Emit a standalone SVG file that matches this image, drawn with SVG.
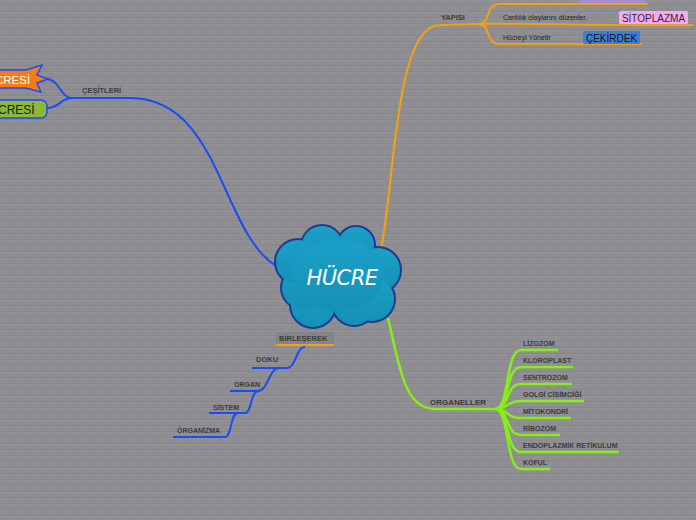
<svg xmlns="http://www.w3.org/2000/svg" width="696" height="520" viewBox="0 0 696 520">
<defs>
<pattern id="brick" width="16" height="12" patternUnits="userSpaceOnUse">
<rect width="16" height="12" fill="#8f8f93"/>
<path d="M0,5.5H16M0,11.5H16M4,0V6M12,6V12" stroke="#87878b" stroke-width="1" fill="none"/>
<path d="M0,0.5H16M0,6.5H16" stroke="#939397" stroke-width="1" fill="none"/>
</pattern>
<linearGradient id="cloudg" x1="0" y1="0" x2="0" y2="1">
<stop offset="0" stop-color="#1ba0c8"/>
<stop offset="1" stop-color="#1590b6"/>
</linearGradient>
</defs>
<style>
.lbl{font-family:"Liberation Sans",Arial,sans-serif;font-weight:bold;fill:#3c3c3c;}
.sm{font-family:"Liberation Sans",Arial,sans-serif;fill:#1e1e1e;}
.blue{stroke:#1a4cf5;stroke-width:2;fill:none;}
.orange{stroke:#f7a00f;stroke-width:2;fill:none;}
.green{stroke:#86ee16;stroke-width:2.5;fill:none;}
.cl{fill:url(#cloudg);stroke:#1e3c8e;stroke-width:4;}
.cf{fill:url(#cloudg);}
</style>
<rect width="696" height="520" fill="url(#brick)"/>

<g id="connectors">
<path class="blue" d="M276,266 C220,230 220,98 130,98 L72,98"/>
<path class="blue" d="M72,98 C60,98 60,79 46,79"/>
<path class="blue" d="M72,98 C60,98 60,108 47,108"/>
<path class="orange" d="M381,250 C395,180 395,25 440,25 L478,24"/>
<path class="orange" d="M478,24 C492,24 484,4 500,4 L648,4"/>
<path class="orange" d="M478,24 C520,23 600,26 693,25"/>
<path class="orange" d="M478,24 C492,24 484,44 500,44 L642,44"/>
<path class="green" d="M388,318 C400,370 405,409 435,409 L495,409"/>
<path class="green" d="M495,409 C510,409 505,350 521,350 L558,350"/>
<path class="green" d="M495,409 C510,409 505,367 521,367 L573,367"/>
<path class="green" d="M495,409 C510,409 505,384 521,384 L572,384"/>
<path class="green" d="M495,409 C510,409 505,401 521,401 L584,401"/>
<path class="green" d="M495,409 C510,409 505,418 521,418 L571,418"/>
<path class="green" d="M495,409 C510,409 505,435 521,435 L560,435"/>
<path class="green" d="M495,409 C510,409 505,452 521,452 L619,452"/>
<path class="green" d="M495,409 C510,409 505,469 521,469 L550,469"/>
<path class="blue" d="M305,347 C296,347 296,368 287,368 L252,368"/>
<path class="blue" d="M279,368 C269,368 268,391 258,391 L230,391"/>
<path class="blue" d="M259,391 C250,391 252,413 245,413 L209,413"/>
<path class="blue" d="M238,413 C230,413 232,437 225,437 L173,437"/>
</g>

<g id="hucre">
<circle class="cl" cx="322" cy="246" r="20"/>
<circle class="cl" cx="356" cy="245" r="18"/>
<circle class="cl" cx="378" cy="270" r="22"/>
<circle class="cl" cx="372" cy="299" r="22"/>
<circle class="cl" cx="354" cy="304" r="21"/>
<circle class="cl" cx="313" cy="305" r="22"/>
<circle class="cl" cx="302" cy="288" r="20"/>
<circle class="cl" cx="298" cy="262" r="22"/>
<circle class="cf" cx="322" cy="246" r="20"/>
<circle class="cf" cx="356" cy="245" r="18"/>
<circle class="cf" cx="378" cy="270" r="22"/>
<circle class="cf" cx="372" cy="299" r="22"/>
<circle class="cf" cx="354" cy="304" r="21"/>
<circle class="cf" cx="313" cy="305" r="22"/>
<circle class="cf" cx="302" cy="288" r="20"/>
<circle class="cf" cx="298" cy="262" r="22"/>
<ellipse class="cf" cx="338" cy="275" rx="46" ry="36"/>
<text x="342" y="285" text-anchor="middle" font-family="'DejaVu Sans',sans-serif" font-style="italic" font-size="21" fill="#ffffff" letter-spacing="-0.5">HÜCRE</text>
</g>

<g id="cesitleri"><text class="lbl" x="82" y="93" font-size="7.5">ÇEŞİTLERİ</text></g>
<g id="hucresi1">
<polygon points="-6,70 26,70 42,65 37,75 48,79 37,83 41,92 26,88 -6,88" fill="#f57b14" stroke="#1a4cf5" stroke-width="1.5"/>
<text x="-5" y="83.5" font-family="'Liberation Sans',Arial,sans-serif" font-size="11.5" fill="#ffffff">CRESİ</text>
</g>
<g id="hucresi2">
<rect x="-10" y="100" width="57" height="18" rx="6" fill="#8cb83a" stroke="#1a4cf5" stroke-width="1.5"/>
<text x="-2" y="113.5" font-family="'Liberation Sans',Arial,sans-serif" font-size="12" fill="#1a1a1a">CRESİ</text>
</g>

<g id="yapisi"><text class="lbl" x="441" y="20" font-size="7.5">YAPISI</text></g>
<g id="top-purple"><rect x="579" y="-8" width="67" height="11" fill="#a58ad0"/></g>
<g id="sitoplazma">
<text class="sm" x="503" y="19.5" font-size="7">Canlılık olaylarını düzenler.</text>
<rect x="619" y="11" width="69" height="13" rx="1.5" fill="#f5a8f2"/>
<text x="653.5" y="21.5" text-anchor="middle" font-family="'Liberation Sans',Arial,sans-serif" font-size="10" fill="#2a2a2a">SİTOPLAZMA</text>
</g>
<g id="cekirdek">
<text class="sm" x="503" y="40" font-size="7">Hücreyi Yönetir</text>
<rect x="583" y="31" width="57" height="13" rx="1.5" fill="#3d7fd8"/>
<text x="611.5" y="41.5" text-anchor="middle" font-family="'Liberation Sans',Arial,sans-serif" font-size="10" fill="#111111">ÇEKİRDEK</text>
</g>

<g id="organeller"><text class="lbl" x="430" y="405" font-size="8">ORGANELLER</text></g>
<g id="lizozom"><text class="lbl" x="523" y="346" font-size="7">LİZOZOM</text></g>
<g id="kloroplast"><text class="lbl" x="523" y="363" font-size="7">KLOROPLAST</text></g>
<g id="sentrozom"><text class="lbl" x="523" y="380" font-size="7">SENTROZOM</text></g>
<g id="golgi"><text class="lbl" x="523" y="397" font-size="7">GOLGİ CİSİMCİĞİ</text></g>
<g id="mitokondri"><text class="lbl" x="523" y="414" font-size="7">MİTOKONDRİ</text></g>
<g id="ribozom"><text class="lbl" x="523" y="431" font-size="7">RİBOZOM</text></g>
<g id="er"><text class="lbl" x="523" y="448" font-size="7">ENDOPLAZMİK RETİKULUM</text></g>
<g id="koful"><text class="lbl" x="523" y="465" font-size="7">KOFUL</text></g>

<g id="birleserek">
<rect x="276" y="332" width="58" height="12" fill="#858589"/>
<line x1="276" y1="345" x2="334" y2="345" stroke="#f7a00f" stroke-width="2"/>
<text class="lbl" x="279" y="340.5" font-size="7.5">BİRLEŞEREK</text>
</g>
<g id="doku"><text class="lbl" x="256" y="362" font-size="7.5">DOKU</text></g>
<g id="organ"><text class="lbl" x="234" y="387" font-size="7">ORGAN</text></g>
<g id="sistem"><text class="lbl" x="213" y="410" font-size="7">SİSTEM</text></g>
<g id="organizma"><text class="lbl" x="177" y="433" font-size="7">ÖRGANİZMA</text></g>
</svg>
